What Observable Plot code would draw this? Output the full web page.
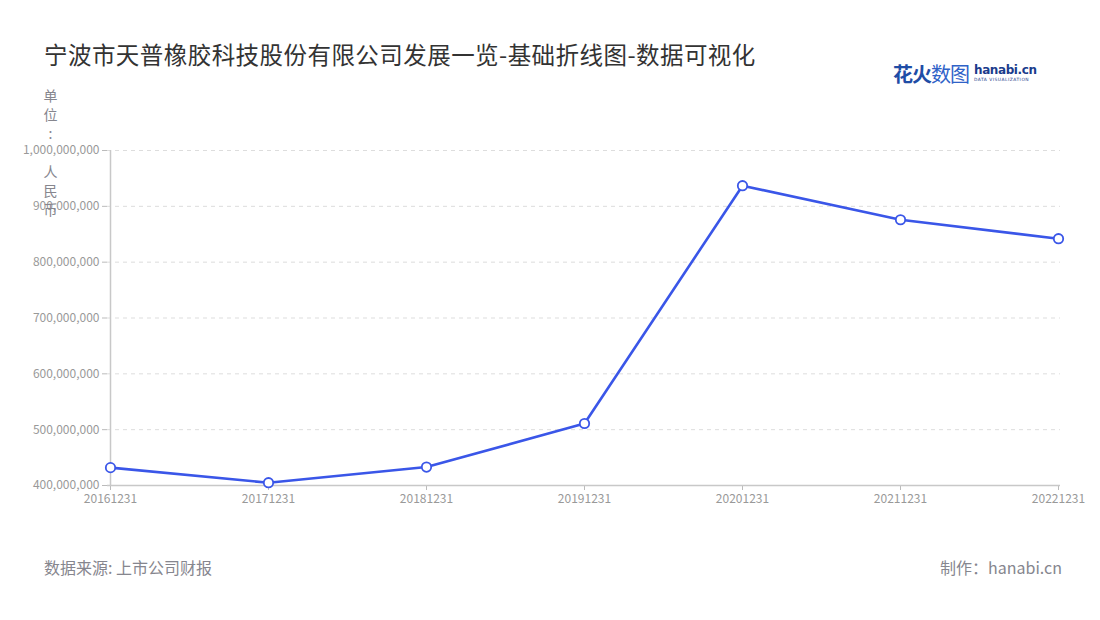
<!DOCTYPE html>
<html>
<head>
<meta charset="utf-8">
<script src="https://cdn.jsdelivr.net/npm/d3@7"></script>
<script src="https://cdn.jsdelivr.net/npm/@observablehq/plot@0.6"></script>
<style>
  html, body { margin: 0; padding: 0; background: #fff; }
  body { width: 1100px; height: 620px; position: relative; overflow: hidden;
         font-family: "Noto Sans CJK SC", "Noto Sans", sans-serif; }
  #title { position: absolute; left: 44px; top: 37px; font-size: 23.5px; color: #333; letter-spacing: 0.45px; }
  #logo { position: absolute; left: 893px; top: 59px; display: flex; align-items: center; }
  #logo .cn { font-size: 20px; font-weight: 700; color: #1f4da6; letter-spacing: -1px; }
  #logo .cn .light { font-weight: 400; color: #2f62c8; }
  #logo .en { margin-left: 5px; display: flex; flex-direction: column; line-height: 1; }
  #logo .en .big { font-family: "DejaVu Sans", sans-serif; font-size: 12px; font-weight: 700; color: #1b3c8c; letter-spacing: -0.4px; }
  #logo .en .small { font-family: "DejaVu Sans", sans-serif; font-size: 4.4px; color: #1b3c8c; letter-spacing: 0.5px; margin-top: 2px; }
  #source { position: absolute; left: 44px; top: 555px; font-size: 16px; color: #86868e; }
  #maker { position: absolute; right: 38px; top: 555px; font-size: 16px; color: #86868e; }
  #chart { position: absolute; left: 0; top: 0; }
</style>
</head>
<body>
<div id="title">宁波市天普橡胶科技股份有限公司发展一览-基础折线图-数据可视化</div>
<div id="logo"><span class="cn">花火<span class="light">数图</span></span><span class="en"><span class="big">hanabi.cn</span><span class="small">DATA VISUALIZATION</span></span></div>
<div id="chart"></div>
<div id="source">数据来源: 上市公司财报</div>
<div id="maker">制作：hanabi.cn</div>
<script>
const dates = ["20161231", "20171231", "20181231", "20191231", "20201231", "20211231", "20221231"];
const revenue = [432000000, 405000000, 433000000, 511000000, 937000000, 876000000, 842000000];
const yTicks = [400000000, 500000000, 600000000, 700000000, 800000000, 900000000, 1000000000];
const unitLabel = ["单", "位", ":", "", "人", "民", "币"];

const data = dates.map((d, i) => ({date: d, value: revenue[i]}));
const blue = "#3a56e8";

const chart = Plot.plot({
  width: 1100,
  height: 560,
  marginTop: 150,
  marginBottom: 75,
  marginLeft: 107,
  marginRight: 40,
  style: {fontFamily: "'Noto Sans CJK SC', 'Noto Sans', sans-serif", fontSize: "12px", color: "#999", background: "transparent"},
  x: {type: "point", domain: dates, padding: 0, label: null},
  y: {domain: [400000000, 1000000000], label: null},
  marks: [
    Plot.gridY(yTicks.slice(1), {stroke: "#ddd", strokeOpacity: 1, strokeDasharray: "4,4"}),
    Plot.axisY(yTicks, {tickFormat: d3.format(","), tickSize: 5, tickPadding: 3, stroke: "#bbb", fill: "#999", fontSize: 12}),
    Plot.axisX({tickSize: 5, tickPadding: 4, stroke: "#bbb", fill: "#999", fontSize: 12}),
    Plot.ruleY([400000000], {stroke: "#c8c8c8", strokeWidth: 1.5}),
    Plot.ruleX([dates[0]], {y1: 400000000, y2: 1000000000, stroke: "#c8c8c8", strokeWidth: 1.5}),
    Plot.text([unitLabel.join("\n")], {frameAnchor: "top-left", dx: -57, dy: -63, text: d => d, fill: "#86868e", fontSize: 14, lineHeight: 1.36, textAnchor: "middle"}),
    Plot.line(data, {x: "date", y: "value", stroke: blue, strokeWidth: 2.6}),
    Plot.dot(data, {x: "date", y: "value", r: 4.7, fill: "#fff", stroke: blue, strokeWidth: 1.8})
  ]
});
document.getElementById("chart").appendChild(chart);
</script>
</body>
</html>
